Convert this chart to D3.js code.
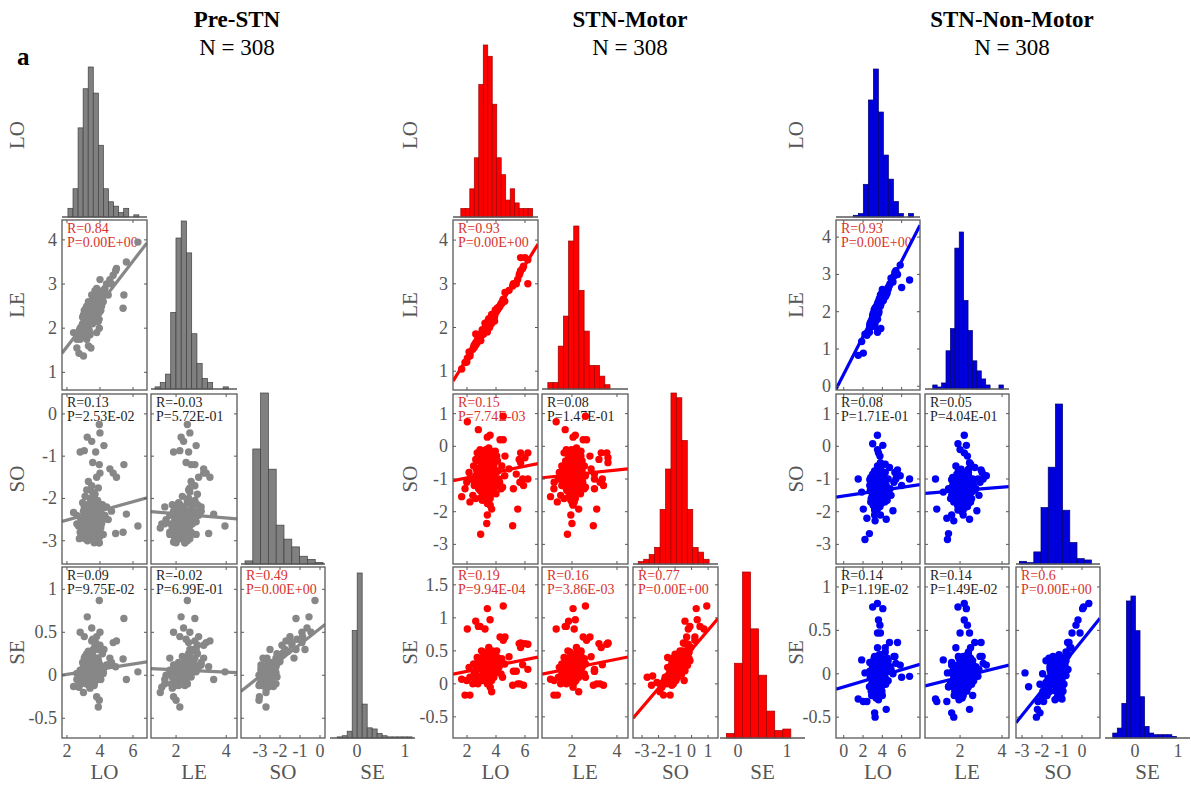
<!DOCTYPE html>
<html><head><meta charset="utf-8">
<script src="https://cdn.jsdelivr.net/npm/d3@7"></script>
<style>
body{margin:0;background:#fff}
svg{display:block}
text{font-family:"Liberation Serif","Times New Roman",serif}
</style>
</head><body>
<svg id="c" width="1191" height="787"></svg>
<script>
// ---------------- DATA ----------------
const varNames = ["LO", "LE", "SO", "SE"];
const panelTitles = ["Pre-STN", "STN-Motor", "STN-Non-Motor"];
const sampleSizes = [308, 308, 308];

// scatter points: [LO, LE, SO, SE]
const preSTNPoints = [
[3.0,2.05,-2.6,-0.02],[3.2,2.15,-2.8,0.03],[3.4,2.25,-2.5,0.05],[3.6,2.35,-2.7,0.0],[3.8,2.45,-2.4,0.08],
[4.0,2.55,-2.9,0.02],[3.3,2.3,-2.2,0.1],[3.5,2.2,-2.95,-0.05],[3.7,2.5,-2.3,0.12],[2.9,1.9,-2.75,0.01],
[3.1,2.2,-2.35,0.06],[3.45,2.4,-2.65,-0.08],[3.9,2.7,-2.55,0.15],[4.2,2.8,-2.85,0.04],[2.8,2.0,-2.45,-0.04],
[3.25,2.0,-3.0,-0.1],[3.65,2.6,-2.15,0.18],[3.55,2.45,-2.05,0.22],[4.1,2.65,-2.6,0.07],[3.35,2.1,-2.9,-0.12],
[2.7,1.85,-2.65,0.0],[3.15,2.35,-2.55,0.13],[3.75,2.3,-2.75,-0.06],[3.85,2.6,-2.2,0.2],[4.3,2.9,-2.4,0.1],
[3.05,1.95,-2.2,0.03],[3.6,2.7,-2.5,0.3],[2.95,2.25,-2.85,-0.02],[3.4,1.85,-2.7,-0.15],[3.95,2.35,-3.05,0.0],
[4.4,3.0,-2.2,0.12],[2.6,1.75,-2.4,0.02],[3.7,2.85,-1.9,0.35],[3.2,2.5,-1.8,0.25],[3.5,2.75,-1.7,0.4],
[3.3,2.6,-1.6,0.28],[3.8,2.9,-1.5,0.45],[4.0,3.1,-1.4,0.35],
[3.1,2.1,-2.95,0.08],[3.6,2.3,-2.85,0.1],[3.3,2.2,-2.45,-0.03],[3.75,2.55,-2.6,0.05],[2.85,1.95,-2.9,0.04],
[4.05,2.75,-2.3,0.1],[3.5,2.35,-2.35,0.15],[3.15,2.0,-2.75,-0.06],[3.85,2.4,-2.45,0.0],[3.4,2.5,-2.0,0.16],
[3.65,2.45,-3.0,-0.1],[3.0,2.3,-2.5,0.09],
[2.75,1.95,-2.95,-0.08],[2.9,2.05,-2.55,0.02],[3.05,2.1,-2.4,0.05],[3.2,2.25,-2.65,0.0],[3.35,2.3,-2.75,-0.04],
[3.5,2.4,-2.55,0.06],[3.65,2.5,-2.4,0.1],[3.8,2.55,-2.65,0.03],[3.95,2.6,-2.8,-0.02],[4.1,2.5,-2.45,0.08],
[2.85,1.8,-2.6,-0.1],[3.0,1.9,-2.3,0.12],[3.15,1.95,-2.5,-0.05],[3.3,2.05,-2.95,0.05],[3.45,2.15,-2.15,0.14],
[3.6,2.2,-2.55,-0.02],[3.75,2.4,-2.9,0.06],[3.9,2.45,-2.1,0.18],[4.05,2.4,-2.7,-0.05],[4.2,2.6,-2.5,0.02],
[2.95,2.1,-2.1,0.15],[3.1,2.25,-1.95,0.22],[3.25,2.4,-2.65,0.1],[3.4,2.35,-2.8,-0.06],[3.55,2.55,-1.85,0.26],
[3.7,2.6,-2.45,0.04],[3.85,2.75,-2.05,0.2],[4.0,2.8,-2.55,0.1],[3.35,1.95,-2.35,-0.12],[3.55,2.1,-2.9,0.0],
[3.75,2.15,-2.25,0.08],[3.95,2.2,-2.6,0.14],[2.8,1.75,-2.8,0.06],[3.05,2.4,-2.65,0.2],[3.65,2.35,-3.05,-0.12],
[4.15,2.85,-2.15,0.25],[3.25,1.85,-2.15,-0.02],[3.5,2.55,-2.95,0.12],[3.9,2.55,-1.75,0.3],[3.15,2.45,-2.3,-0.1],
[3.96,2.45,-0.25,0.87],[4.0,2.55,-0.45,0.5],[3.23,2.2,-0.55,0.68],[3.5,2.3,-0.65,0.55],[2.8,1.9,-0.9,0.5],
[3.05,2.15,-0.87,0.45],[3.74,2.5,-0.9,0.38],[4.24,2.8,-0.75,0.3],[3.56,2.4,-1.15,0.42],[3.96,2.6,-1.2,0.3],
[5.45,2.75,-1.2,0.66],[4.6,3.1,-1.3,0.2],[4.8,3.2,-1.4,0.38],[5.0,3.35,-1.5,0.4],[6.3,3.95,-2.65,0.04],
[5.6,3.5,-2.37,-0.05],[5.4,2.45,-2.8,0.19],[4.95,3.3,-2.83,0.1],[2.4,1.9,-2.33,-0.13],[2.73,1.43,-2.6,-0.14],
[3.0,1.37,-2.7,-0.2],[3.8,1.9,-3.03,-0.25],[3.96,2.0,-3.05,-0.29],[3.9,2.15,-2.7,-0.37],[3.3,1.6,-2.5,0.0],
[3.45,1.55,-2.2,-0.1],[4.5,2.75,-2.5,0.12],[3.2,1.75,-2.85,0.2],[2.6,1.55,-2.6,-0.05],[4.7,3.0,-2.3,0.15]
];
const stnMotorPoints = [
[3.0,1.85,-1.0,0.22],[3.2,1.95,-0.8,0.28],[3.4,2.05,-1.2,0.18],[3.6,2.15,-0.6,0.35],[3.8,2.25,-0.9,0.25],
[2.8,1.75,-1.3,0.12],[3.1,1.9,-0.5,0.38],[3.3,2.0,-1.5,0.08],[3.5,2.1,-0.7,0.3],[3.7,2.2,-1.1,0.2],
[2.6,1.6,-0.9,0.2],[4.0,2.35,-0.8,0.3],[4.2,2.45,-1.0,0.25],[2.5,1.55,-1.2,0.15],[3.25,2.0,-0.3,0.45],
[3.45,2.1,-1.7,0.02],[3.65,2.2,-0.4,0.4],[2.9,1.8,-0.65,0.32],[3.85,2.3,-1.4,0.1],[3.15,1.85,-1.05,0.2],
[3.55,2.0,-1.25,0.15],[2.7,1.65,-0.2,0.4],[4.4,2.55,-0.6,0.38],[3.95,2.4,-0.15,0.48],[3.35,1.95,-0.95,0.05],
[3.75,2.25,-0.55,0.5],[2.4,1.5,-1.5,0.0],[4.1,2.4,-1.2,0.18],[3.05,1.95,-1.65,0.05],[3.5,2.2,-0.05,0.55],
[2.95,1.7,-0.85,0.1],[3.6,2.05,-1.8,-0.05],[4.6,2.6,-0.9,0.3],[2.2,1.4,-1.0,0.1],[3.4,1.9,-0.45,0.05],
[3.9,2.15,-1.0,0.42],
[3.2,1.95,-1.35,0.15],[3.5,2.05,-0.85,0.22],[3.8,2.3,-0.7,0.3],[2.85,1.7,-1.1,0.1],[3.3,1.95,-0.6,0.35],
[3.7,2.1,-1.45,0.12],[4.1,2.45,-0.45,0.4],[3.0,1.85,-0.35,0.3],[3.45,2.15,-1.0,0.28],[3.9,2.25,-1.25,0.2],
[2.65,1.65,-0.7,0.25],[3.6,2.2,-0.25,0.45],
[2.5,1.6,-1.05,0.18],[2.7,1.7,-0.75,0.3],[2.9,1.78,-1.35,0.1],[3.05,1.9,-0.55,0.4],[3.2,1.95,-1.15,0.2],
[3.35,2.05,-0.8,0.32],[3.5,2.1,-1.4,0.12],[3.65,2.2,-0.95,0.25],[3.8,2.25,-0.45,0.45],[3.95,2.35,-1.15,0.22],
[4.15,2.45,-0.75,0.35],[4.35,2.55,-1.3,0.15],[2.6,1.65,-1.6,0.05],[2.8,1.72,-0.45,0.38],[3.0,1.85,-1.55,0.08],
[3.15,1.92,-0.2,0.48],[3.3,2.02,-1.2,0.3],[3.45,2.08,-0.65,0.42],[3.6,2.15,-1.6,0.1],[3.75,2.22,-0.85,0.18],
[3.9,2.28,-1.05,0.35],[4.05,2.4,-0.3,0.5],[4.25,2.48,-1.1,0.28],[2.95,1.82,-0.95,0.28],[3.1,1.88,-1.25,0.38],
[3.25,1.98,-0.4,0.2],[3.4,2.02,-1.75,0.0],[3.55,2.12,-0.3,0.3],[3.7,2.18,-1.3,0.05],[3.85,2.28,-0.6,0.15],
[4.0,2.38,-1.45,0.4],[2.75,1.75,-1.2,0.0],[3.5,2.15,-1.0,0.45],[3.3,1.98,-0.1,0.35],[3.9,2.32,-0.25,0.28],
[2.45,1.55,-0.6,0.3],[3.15,1.92,-1.45,0.25],[3.65,2.18,-0.15,0.38],[4.45,2.6,-1.25,0.1],[3.0,1.82,-0.7,0.5],
[2.02,1.3,0.75,0.83],[4.5,2.6,0.92,1.18],[2.78,1.7,0.51,0.87],[3.59,2.15,0.34,0.97],[3.4,2.05,0.28,1.14],
[4.28,2.5,0.2,0.71],[4.5,2.65,0.2,0.66],[5.7,3.3,-0.2,0.55],[6.2,3.55,-0.2,0.6],[5.6,3.2,-0.4,0.61],
[4.9,2.85,-0.69,0.41],[5.84,3.35,-1.0,0.29],[1.63,1.05,-1.54,0.07],[5.2,3.0,-1.3,0.19],[2.2,1.35,-1.7,-0.17],
[5.5,3.1,-1.92,0.0],[3.7,2.3,-1.92,-0.12],[3.4,1.95,-2.1,0.02],[3.36,2.0,-2.36,0.12],[5.15,2.95,-2.43,-0.02],
[2.94,1.8,-2.69,0.1],[6.2,3.0,-1.0,0.22],[5.7,3.6,-0.5,0.62],[1.98,1.21,-1.1,0.05],[2.14,1.44,-0.8,0.25],
[2.6,1.85,-0.4,0.95],[2.9,1.75,-0.1,0.87],[3.24,2.1,-0.2,0.83],[4.62,2.8,-0.3,0.71],[6.0,3.6,-0.35,0.61],
[5.4,3.0,-0.85,0.19],[5.65,3.25,-1.1,0.0],[5.9,3.4,-1.2,-0.02],[1.86,1.2,-1.3,-0.17]
];
const stnNonMotorPoints = [
[3.0,1.85,-1.4,-0.05],[3.2,1.95,-1.2,0.02],[3.4,2.05,-1.6,-0.1],[3.6,2.15,-1.0,0.08],[3.8,2.25,-1.3,0.0],
[4.0,2.35,-1.5,-0.08],[4.2,2.45,-1.1,0.1],[2.8,1.7,-1.7,-0.15],[3.3,2.0,-0.8,0.15],[3.5,2.1,-1.9,-0.2],
[3.7,2.2,-1.25,-0.02],[3.9,2.3,-0.9,0.12],[4.4,2.55,-1.4,0.05],[3.1,1.9,-1.05,0.05],[2.9,1.75,-1.3,-0.12],
[3.45,2.15,-1.45,0.2],[3.65,2.0,-1.75,-0.25],[3.85,2.4,-0.7,0.22],[4.1,2.3,-1.2,-0.1],[3.25,1.85,-1.55,0.0],
[3.55,2.25,-1.15,0.1],[4.6,2.6,-1.0,0.15],[2.7,1.65,-1.2,0.03],[3.95,2.5,-1.6,-0.05],[4.3,2.4,-0.8,0.25],
[3.35,2.1,-2.0,-0.28],[3.75,2.35,-1.85,-0.15],[4.8,2.75,-1.3,0.08],[3.05,1.95,-0.95,-0.2],[3.6,1.95,-1.35,-0.3],
[4.5,2.5,-1.65,0.18],[2.95,1.6,-1.5,0.1],[3.15,2.05,-1.8,0.15],[4.0,2.6,-1.05,-0.25],[3.5,1.8,-0.6,0.3],
[3.8,2.15,-2.1,-0.12],
[3.3,1.95,-1.25,0.05],[3.7,2.2,-1.5,-0.1],[3.9,2.3,-1.15,0.05],[3.1,1.85,-1.6,-0.05],[3.55,2.15,-0.95,0.1],
[4.15,2.5,-1.35,-0.02],[3.4,2.1,-1.75,-0.18],[3.85,2.2,-0.85,0.18],[3.2,1.9,-1.95,-0.2],[3.65,2.3,-1.4,0.0],
[4.35,2.55,-1.6,-0.12],[3.0,1.75,-1.1,0.08],
[2.75,1.7,-1.35,-0.05],[2.95,1.8,-1.1,0.05],[3.1,1.9,-1.5,-0.12],[3.25,1.98,-1.25,0.1],[3.4,2.05,-1.65,-0.15],
[3.55,2.12,-0.95,0.15],[3.7,2.2,-1.3,-0.05],[3.85,2.28,-1.55,0.02],[4.0,2.35,-1.15,0.08],[4.2,2.45,-1.45,-0.1],
[4.4,2.55,-1.2,0.12],[2.85,1.75,-1.6,-0.2],[3.0,1.85,-0.85,0.1],[3.15,1.95,-1.35,0.18],[3.3,2.02,-1.0,-0.08],
[3.45,2.1,-1.25,0.05],[3.6,2.15,-1.7,-0.22],[3.75,2.25,-1.05,0.0],[3.9,2.3,-1.4,0.1],[4.05,2.4,-0.9,-0.12],
[4.25,2.5,-1.7,-0.05],[2.9,1.72,-1.2,-0.25],[3.05,1.88,-1.8,-0.1],[3.2,1.92,-0.75,0.2],[3.35,2.0,-1.45,-0.02],
[3.5,2.08,-1.1,-0.18],[3.65,2.18,-1.55,0.12],[3.8,2.22,-0.8,-0.02],[3.95,2.32,-1.3,-0.2],[4.1,2.38,-1.6,0.05],
[4.6,2.65,-1.35,-0.08],[3.4,2.15,-1.95,-0.25],[3.7,2.35,-1.15,0.22],[3.1,1.8,-1.0,-0.15],[3.6,2.05,-0.7,0.05],
[3.9,2.4,-1.75,-0.15],[3.25,2.1,-1.6,0.08],[4.3,2.42,-1.0,-0.05],[3.55,1.95,-1.25,-0.28],[2.8,1.65,-0.95,0.0],
[3.49,2.2,0.34,0.81],[3.0,1.9,0.08,0.77],[4.05,2.3,0.03,0.75],[3.6,2.2,-0.2,0.62],[3.75,2.35,-0.3,0.56],
[3.5,2.0,-0.1,0.47],[3.8,2.45,-0.5,0.47],[4.3,2.5,-0.55,0.3],[4.74,2.7,-0.65,0.36],[5.57,3.0,-0.72,0.36],
[5.2,2.95,-1.1,0.2],[6.82,2.85,-1.0,-0.03],[6.0,2.65,-1.2,-0.04],[5.85,3.25,-0.9,0.1],[5.4,3.1,-1.0,0.12],
[1.5,0.83,-1.0,-0.29],[2.03,0.89,-1.92,-0.32],[2.66,1.45,-2.67,-0.15],[3.25,1.7,-2.28,-0.5],[4.4,2.45,-2.23,-0.41],
[5.1,2.8,-1.97,0.0],[2.4,1.37,-2.2,-0.32],[2.7,1.6,-1.02,0.13],[1.86,1.2,-1.4,0.16],[3.84,1.55,-1.6,-0.1],
[3.5,1.45,-1.3,-0.15],[2.2,1.4,-2.85,0.01],[4.9,2.9,-1.5,0.05],[5.3,3.05,-0.8,0.2],[3.2,1.6,-2.1,-0.45]
];

// histograms (diagonal): bin start, bin width and counts for LO, LE, SO, SE
const preSTNHistStart = [2.06, 1.16, -3.75, -0.41];
const preSTNHistWidth = [0.307, 0.209, 0.39, 0.104];
const preSTNHistCounts = [
  [4,13,41,59,69,57,33,13,7,5,2,4,0,1],
  [1,3,7,36,71,79,64,26,12,5,3,0,0,1],
  [2,74,110,61,25,16,11,5,3,1],
  [1,2,6,95,146,30,9,8,4,2,1,1,1,1,1]
];
const stnMotorHistStart = [1.57, 0.93, -3.23, -0.24];
const stnMotorHistWidth = [0.31, 0.23, 0.33, 0.165];
const stnMotorHistCounts = [
  [3,3,10,21,47,61,57,40,21,15,6,10,5,3,3,3],
  [3,3,20,34,69,76,46,27,11,11,6,2],
  [1,2,4,7,23,40,72,70,52,23,7,5,2],
  [3,50,111,73,42,18,5,6]
];
const stnNonMotorHistStart = [0.99, 0.7, -3.13, -0.52];
const stnNonMotorHistWidth = [0.52, 0.21, 0.36, 0.106];
const stnNonMotorHistCounts = [
  [1,2,19,68,86,61,36,22,9,2,0,2],
  [2,1,3,19,30,70,78,44,29,14,9,5,2,0,0,2],
  [2,1,9,42,72,119,40,16,4,3],
  [3,6,21,83,86,65,25,7,3,2,2,2,2,1]
];

// lower-triangle cells [row var, col var]
const cellPairs = [[1,0],[2,0],[2,1],[3,0],[3,1],[3,2]];
// fit lines: intercept, slope (row var = a + b * col var)
const preSTNFitA = [0.61, -2.73, -2.26, -0.05, 0.092, 0.544];
const preSTNFitB = [0.485, 0.109, -0.05, 0.030, -0.014, 0.185];
const stnMotorFitA = [0.224, -1.144, -1.01, 0.103, 0.102, 0.52];
const stnMotorFitB = [0.534, 0.089, 0.071, 0.044, 0.068, 0.293];
const stnNonMotorFitA = [0.325, -1.52, -1.457, -0.152, -0.16, 0.382];
const stnNonMotorFitB = [0.506, 0.044, 0.052, 0.033, 0.06, 0.287];
// correlation stats
const preSTNR = ["0.84", "0.13", "-0.03", "0.09", "-0.02", "0.49"];
const preSTNP = ["0.00E+00", "2.53E-02", "5.72E-01", "9.75E-02", "6.99E-01", "0.00E+00"];
const stnMotorR = ["0.93", "0.15", "0.08", "0.19", "0.16", "0.77"];
const stnMotorP = ["0.00E+00", "7.74E-03", "1.47E-01", "9.94E-04", "3.86E-03", "0.00E+00"];
const stnNonMotorR = ["0.93", "0.08", "0.05", "0.14", "0.14", "0.6"];
const stnNonMotorP = ["0.00E+00", "1.71E-01", "4.04E-01", "1.19E-02", "1.49E-02", "0.00E+00"];

// tick values
const preSTNXTicks = [[2,4,6],[2,4],[-3,-2,-1,0],[0,1]];
const preSTNYTicks = [[],[1,2,3,4],[-3,-2,-1,0],[-0.5,0,0.5,1]];
const stnMotorXTicks = [[2,4,6],[2,4],[-3,-2,-1,0,1],[0,1]];
const stnMotorYTicks = [[],[1,2,3,4],[-3,-2,-1,0,1],[-0.5,0,0.5,1,1.5]];
const stnNonMotorXTicks = [[0,2,4,6],[2,4],[-3,-2,-1,0],[0,1]];
const stnNonMotorYTicks = [[],[0,1,2,3,4],[-3,-2,-1,0,1],[-0.5,0,0.5,1]];

// ---------------- LAYOUT / STYLE ----------------
const rowsPx = [[47,217],[220,390],[394,564],[567,738]];
const panels = [
  { title: panelTitles[0], n: sampleSizes[0], pts: preSTNPoints,
    hStart: preSTNHistStart, hWidth: preSTNHistWidth, hCounts: preSTNHistCounts, hTop: [67,221,393,573],
    fa: preSTNFitA, fb: preSTNFitB, R: preSTNR, P: preSTNP,
    xTicks: preSTNXTicks, yTicks: preSTNYTicks,
    cols: [[62,147],[151,237],[241,325],[330,415]],
    xDom: [[1.7,6.85],[1.0,4.43],[-3.95,0.25],[-0.56,1.21]],
    yDom: [null,[0.6,4.45],[-3.55,0.47],[-0.73,1.26]],
    titleX: 237, ylabX: 17,
    pt: "#878787", line: "#878787", fill: "#808080", edge: "#404040" },
  { title: panelTitles[1], n: sampleSizes[1], pts: stnMotorPoints,
    hStart: stnMotorHistStart, hWidth: stnMotorHistWidth, hCounts: stnMotorHistCounts, hTop: [45,226,393,572],
    fa: stnMotorFitA, fb: stnMotorFitB, R: stnMotorR, P: stnMotorP,
    xTicks: stnMotorXTicks, yTicks: stnMotorYTicks,
    cols: [[453,538],[542,628],[633,718],[720,805]],
    xDom: [[1.03,6.9],[0.67,4.49],[-3.55,1.6],[-0.37,1.37]],
    yDom: [null,[0.57,4.46],[-3.6,1.6],[-0.82,1.77]],
    titleX: 630, ylabX: 410,
    pt: "#ff0000", line: "#ff0000", fill: "#ff0000", edge: "#a00000" },
  { title: panelTitles[2], n: sampleSizes[2], pts: stnNonMotorPoints,
    hStart: stnNonMotorHistStart, hWidth: stnNonMotorHistWidth, hCounts: stnNonMotorHistCounts, hTop: [69,232,404,596],
    fa: stnNonMotorFitA, fb: stnNonMotorFitB, R: stnNonMotorR, P: stnNonMotorP,
    xTicks: stnNonMotorXTicks, yTicks: stnNonMotorYTicks,
    cols: [[836,920],[925,1009],[1016,1100],[1105,1190]],
    xDom: [[-0.8,7.9],[0.33,4.33],[-3.3,0.9],[-0.7,1.28]],
    yDom: [null,[-0.1,4.46],[-3.6,1.6],[-0.74,1.23]],
    titleX: 1012, ylabX: 796,
    pt: "#0000f2", line: "#0000f2", fill: "#0000dc", edge: "#000070" }
];
const boxColor = "#595959";
const tickColor = "#555";
const redText = "#d8332b";
const blackText = "#1e1e1e";

const svg = d3.select("#c");
const defs = svg.append("defs");

svg.append("text").attr("x", 17).attr("y", 65).attr("font-size", 25).attr("font-weight", "bold").text("a");

panels.forEach((p, pi) => {
  const g = svg.append("g");
  const xS = p.cols.map((c, j) => d3.scaleLinear().domain(p.xDom[j]).range(c));
  const yS = rowsPx.map((r, i) => p.yDom[i] ? d3.scaleLinear().domain(p.yDom[i]).range([r[1], r[0]]) : null);

  // titles
  g.append("text").attr("x", p.titleX).attr("y", 27).attr("text-anchor", "middle")
    .attr("font-size", 23).attr("font-weight", "bold").attr("fill", "#000").text(p.title);
  g.append("text").attr("x", p.titleX).attr("y", 55).attr("text-anchor", "middle")
    .attr("font-size", 23).attr("fill", "#000").text("N = " + p.n);

  // y labels
  varNames.forEach((v, i) => {
    const cy = i === 0 ? 135 : (rowsPx[i][0] + rowsPx[i][1]) / 2;
    g.append("text").attr("transform", `translate(${p.ylabX},${cy}) rotate(-90)`)
      .attr("text-anchor", "middle").attr("dominant-baseline", "central")
      .attr("font-size", 21).attr("fill", tickColor).text(v);
  });
  // x labels
  varNames.forEach((v, j) => {
    g.append("text").attr("x", (p.cols[j][0] + p.cols[j][1]) / 2).attr("y", 779)
      .attr("text-anchor", "middle").attr("font-size", 21).attr("fill", tickColor).text(v);
  });

  // histograms on diagonal
  for (let k = 0; k < 4; k++) {
    const base = rowsPx[k][1] - (k === 1 ? 1 : 0);
    const counts = p.hCounts[k];
    const hy = d3.scaleLinear().domain([0, d3.max(counts)]).range([base, p.hTop[k]]);
    const bins = counts.map((c, b) => ({ x0: p.hStart[k] + b * p.hWidth[k], x1: p.hStart[k] + (b + 1) * p.hWidth[k], c }));
    g.append("g").selectAll("rect").data(bins.filter(d => d.c > 0)).join("rect")
      .attr("x", d => xS[k](d.x0)).attr("width", d => xS[k](d.x1) - xS[k](d.x0))
      .attr("y", d => hy(d.c)).attr("height", d => base - hy(d.c))
      .attr("fill", p.fill).attr("stroke", p.edge).attr("stroke-width", 0.7);
    g.append("line").attr("x1", p.cols[k][0]).attr("x2", p.cols[k][1]).attr("y1", base).attr("y2", base)
      .attr("stroke", boxColor).attr("stroke-width", 1.3);
  }

  // scatter cells
  cellPairs.forEach(([ri, cj], ci) => {
    const x = xS[cj], y = yS[ri];
    const [xl, xr] = p.cols[cj];
    const [yt, yb] = rowsPx[ri];
    const cid = `clip${pi}_${ci}`;
    defs.append("clipPath").attr("id", cid).append("rect")
      .attr("x", xl).attr("y", yt).attr("width", xr - xl).attr("height", yb - yt);
    const cell = g.append("g");
    const sig = parseFloat(p.P[ci]) < 0.01;
    const tc = sig ? redText : blackText;
    cell.append("text").attr("x", xl + 5).attr("y", yt + 13).attr("font-size", 14).attr("fill", tc).text("R=" + p.R[ci]);
    cell.append("text").attr("x", xl + 5).attr("y", yt + 27).attr("font-size", 14).attr("fill", tc).text("P=" + p.P[ci]);
    const inner = cell.append("g").attr("clip-path", `url(#${cid})`);
    inner.selectAll("circle").data(p.pts).join("circle")
      .attr("cx", d => x(d[cj])).attr("cy", d => y(d[ri])).attr("r", 3.7).attr("fill", p.pt);
    const dx = x.domain();
    inner.append("line")
      .attr("x1", x(dx[0])).attr("y1", y(p.fa[ci] + p.fb[ci] * dx[0]))
      .attr("x2", x(dx[1])).attr("y2", y(p.fa[ci] + p.fb[ci] * dx[1]))
      .attr("stroke", p.line).attr("stroke-width", 3.2);
    cell.append("rect").attr("x", xl).attr("y", yt).attr("width", xr - xl).attr("height", yb - yt)
      .attr("fill", "none").attr("stroke", boxColor).attr("stroke-width", 1.3);
    const tg = cell.append("g").attr("stroke", boxColor).attr("stroke-width", 1);
    p.xTicks[cj].forEach(t => {
      const tx = x(t);
      if (tx < xl || tx > xr) return;
      tg.append("line").attr("x1", tx).attr("x2", tx).attr("y1", yb).attr("y2", yb - 3);
      tg.append("line").attr("x1", tx).attr("x2", tx).attr("y1", yt).attr("y2", yt + 3);
    });
    p.yTicks[ri].forEach(t => {
      const ty = y(t);
      if (ty < yt || ty > yb) return;
      tg.append("line").attr("x1", xl).attr("x2", xl + 3).attr("y1", ty).attr("y2", ty);
      tg.append("line").attr("x1", xr).attr("x2", xr - 3).attr("y1", ty).attr("y2", ty);
    });
  });

  // y tick labels (first column)
  for (let i = 1; i < 4; i++) {
    p.yTicks[i].forEach(t => {
      g.append("text").attr("x", p.cols[0][0] - 5).attr("y", yS[i](t))
        .attr("text-anchor", "end").attr("dominant-baseline", "central")
        .attr("font-size", 18).attr("fill", tickColor).text(t);
    });
  }
  // x tick labels (bottom row)
  for (let j = 0; j < 4; j++) {
    p.xTicks[j].forEach(t => {
      g.append("text").attr("x", xS[j](t)).attr("y", 757)
        .attr("text-anchor", "middle").attr("font-size", 18).attr("fill", tickColor).text(t);
    });
  }
});
</script>
</body></html>
